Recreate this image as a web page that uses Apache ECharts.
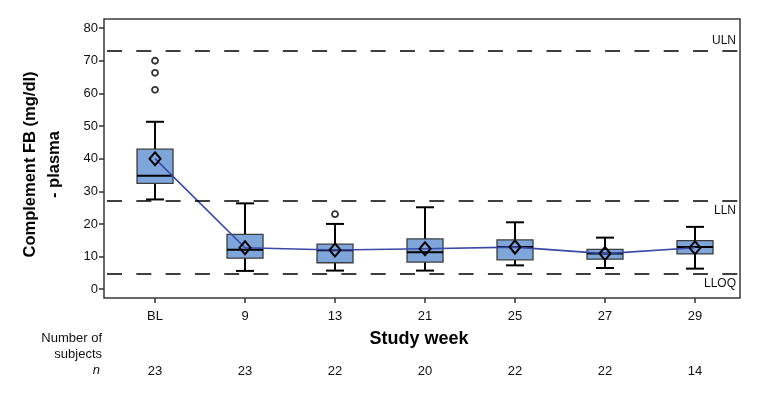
<!DOCTYPE html>
<html>
<head>
<meta charset="utf-8">
<script src="https://cdn.jsdelivr.net/npm/echarts@6/dist/echarts.min.js"></script>
<style>html,body{margin:0;padding:0;background:#fff}#c{width:778px;height:397px}</style>
</head>
<body>
<div id="c"></div>
<script>
const categories = ['BL', '9', '13', '21', '25', '27', '29'];
const nCounts = [23, 23, 22, 20, 22, 22, 14];
const whiskerLow = [27.5, 5.6, 5.7, 5.7, 7.3, 6.5, 6.3];
const q1 = [32.4, 9.5, 8.1, 8.3, 9.0, 9.2, 10.8];
const median = [34.8, 12.1, 11.9, 11.3, 12.9, 10.9, 12.9];
const q3 = [42.9, 16.8, 13.8, 15.4, 15.1, 12.2, 14.9];
const whiskerHigh = [51.3, 26.3, 20.0, 25.1, 20.5, 15.8, 19.1];
const means = [40.0, 12.7, 12.0, 12.4, 12.9, 10.9, 12.7];
const outlierCat = ['BL', 'BL', 'BL', '13'];
const outlierVal = [70.0, 66.3, 61.1, 23.0];
const refNames = ['ULN', 'LLN', 'LLOQ'];
const refValues = [73.0, 27.1, 4.6];
const yTicks = [0, 10, 20, 30, 40, 50, 60, 70, 80];

const catIdx = categories.map((c, i) => i);
const boxData = categories.map((c, i) => [i, whiskerLow[i], q1[i], median[i], q3[i], whiskerHigh[i]]);
const meanData = categories.map((c, i) => [i, means[i]]);
const outlierData = outlierCat.map((c, i) => [categories.indexOf(c), outlierVal[i]]);
const FONT = '"Liberation Sans", Arial, sans-serif';

const chart = echarts.init(document.getElementById('c'), null, {renderer: 'canvas'});
chart.setOption({
  animation: false,
  textStyle: {fontFamily: FONT},
  grid: {left: 104, right: 38, top: 19, bottom: 99, show: true, borderColor: '#3a3a3a', borderWidth: 1.5, backgroundColor: 'transparent'},
  xAxis: [{
    type: 'value', min: -0.567, max: 6.5,
    splitLine: {show: false},
    axisLine: {show: false, onZero: false},
    axisTick: {show: true, customValues: catIdx, length: 5, lineStyle: {color: '#333', width: 1.5}},
    axisLabel: {customValues: catIdx, margin: 12, fontSize: 13, color: '#111', fontFamily: FONT,
      formatter: v => categories[Math.round(v)]},
    name: 'Study week', nameLocation: 'middle', nameGap: 32,
    nameTextStyle: {fontSize: 18, fontWeight: 'bold', color: '#000', fontFamily: FONT, padding: [0, 6, 0, 0]}
  }, {
    type: 'value', min: -0.567, max: 6.5, position: 'bottom', offset: 55,
    splitLine: {show: false}, axisLine: {show: false, onZero: false}, axisTick: {show: false},
    axisLabel: {customValues: catIdx, margin: 12, fontSize: 13, color: '#111', fontFamily: FONT,
      formatter: v => String(nCounts[Math.round(v)])}
  }],
  yAxis: {
    type: 'value', min: -2.7, max: 82.8,
    splitLine: {show: false},
    axisLine: {show: false, onZero: false},
    axisTick: {show: true, customValues: yTicks, length: 5, lineStyle: {color: '#333', width: 1.5}},
    axisLabel: {customValues: yTicks, margin: 6, fontSize: 13, color: '#111', fontFamily: FONT},
    name: 'Complement FB (mg/dl)\n- plasma', nameLocation: 'middle', nameGap: 38,
    nameTextStyle: {fontSize: 16.5, fontWeight: 'bold', color: '#000', lineHeight: 24, fontFamily: FONT, padding: [0, 12, 0, 0]}
  },
  graphic: [
    {type: 'text', right: 778 - 102, top: 332, style: {text: 'Number of', font: '13px ' + FONT, fill: '#111', textAlign: 'right'}},
    {type: 'text', right: 778 - 102, top: 348, style: {text: 'subjects', font: '13px ' + FONT, fill: '#111', textAlign: 'right'}},
    {type: 'text', right: 778 - 100, top: 364, style: {text: 'n', font: 'italic 13px ' + FONT, fill: '#111', textAlign: 'right'}}
  ],
  series: [{
    type: 'custom',
    z: 2,
    data: boxData,
    renderItem: function (params, api) {
      const x = api.value(0);
      const unit = api.size([1, 0])[0];
      const bw = unit * 0.4, cw = unit * 0.2;
      const pLow = api.coord([x, api.value(1)]);
      const pQ1 = api.coord([x, api.value(2)]);
      const pMed = api.coord([x, api.value(3)]);
      const pQ3 = api.coord([x, api.value(4)]);
      const pHigh = api.coord([x, api.value(5)]);
      const cx = pLow[0];
      const ls = {stroke: '#000', lineWidth: 2};
      return {
        type: 'group',
        children: [
          {type: 'line', shape: {x1: cx, y1: pHigh[1], x2: cx, y2: pQ3[1]}, style: ls},
          {type: 'line', shape: {x1: cx, y1: pQ1[1], x2: cx, y2: pLow[1]}, style: ls},
          {type: 'line', shape: {x1: cx - cw / 2, y1: pHigh[1], x2: cx + cw / 2, y2: pHigh[1]}, style: ls},
          {type: 'line', shape: {x1: cx - cw / 2, y1: pLow[1], x2: cx + cw / 2, y2: pLow[1]}, style: ls},
          {type: 'rect', shape: {x: cx - bw / 2, y: pQ3[1], width: bw, height: pQ1[1] - pQ3[1]},
            style: {fill: '#7EA6DB', stroke: '#3c3c3c', lineWidth: 1.3}},
          {type: 'line', shape: {x1: cx - bw / 2, y1: pMed[1], x2: cx + bw / 2, y2: pMed[1]}, style: ls}
        ]
      };
    },
    markLine: {
      silent: true, symbol: 'none',
      lineStyle: {color: '#000', width: 1.5, type: [15, 14.3], dashOffset: 26.3},
      data: refNames.map((n, i) => ({
        name: n, yAxis: refValues[i],
        label: {show: true, formatter: n, position: i === 0 ? 'insideEndTop' : 'insideEndBottom',
          fontSize: 12, color: '#111', fontFamily: FONT, distance: [4, 4]}
      }))
    }
  }, {
    type: 'line',
    z: 3,
    data: meanData,
    lineStyle: {color: '#3A49A6', width: 1.6},
    symbol: 'diamond', symbolSize: [11, 13],
    itemStyle: {color: 'rgba(0,0,0,0)', borderColor: '#000', borderWidth: 2}
  }, {
    type: 'scatter',
    z: 4,
    data: outlierData,
    symbol: 'circle', symbolSize: 6,
    itemStyle: {color: '#fff', borderColor: '#000', borderWidth: 1.8}
  }]
});
</script>
</body>
</html>
